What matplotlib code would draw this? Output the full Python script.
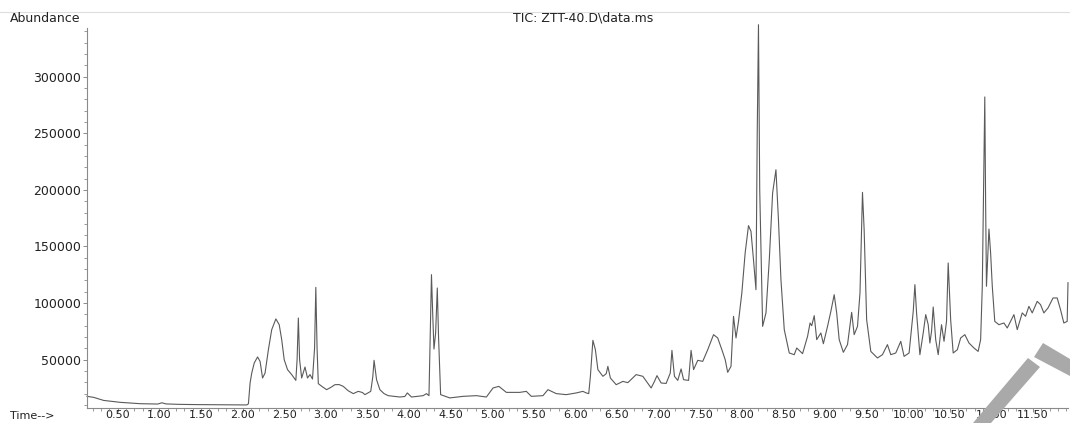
import matplotlib
matplotlib.use("Agg")
import matplotlib.pyplot as plt
from matplotlib.ticker import MultipleLocator, FormatStrFormatter
from matplotlib.lines import Line2D
from matplotlib.patches import Polygon

# retention time (min) and abundance
time_min = [
    0.13, 0.21, 0.33, 0.53, 0.77, 0.98, 1.03, 1.08, 1.25, 1.45, 1.65, 1.85, 2.05, 2.07,
    2.09, 2.11, 2.14, 2.18, 2.21, 2.24, 2.27, 2.31, 2.35, 2.40, 2.44, 2.47, 2.50, 2.54,
    2.59, 2.64, 2.655, 2.67, 2.685, 2.71, 2.75, 2.78, 2.81, 2.84, 2.865, 2.88, 2.895, 2.91,
    2.96, 3.01, 3.06, 3.11, 3.16, 3.21, 3.27, 3.33, 3.39, 3.44, 3.47, 3.54, 3.565, 3.58,
    3.61, 3.65, 3.70, 3.75, 3.89, 3.95, 3.98, 4.03, 4.17, 4.21, 4.24, 4.255, 4.27, 4.285,
    4.30, 4.32, 4.34, 4.355, 4.38, 4.49, 4.65, 4.81, 4.93, 5.01, 5.08, 5.17, 5.33, 5.41,
    5.47, 5.61, 5.67, 5.77, 5.89, 6.01, 6.09, 6.13, 6.16, 6.18, 6.21, 6.24, 6.27, 6.33,
    6.37, 6.39, 6.42, 6.49, 6.57, 6.63, 6.73, 6.81, 6.91, 6.95, 6.98, 7.03, 7.09, 7.14,
    7.16, 7.19, 7.23, 7.27, 7.30, 7.36, 7.39, 7.42, 7.47, 7.53, 7.59, 7.66, 7.71, 7.76,
    7.80, 7.83, 7.87, 7.90, 7.93, 7.96, 8.00, 8.04, 8.08, 8.11, 8.14, 8.17, 8.185, 8.20,
    8.215, 8.25, 8.29, 8.33, 8.37, 8.41, 8.44, 8.47, 8.51, 8.57, 8.63, 8.66, 8.73, 8.79,
    8.82, 8.84, 8.87, 8.90, 8.95, 8.98, 9.03, 9.07, 9.11, 9.14, 9.17, 9.22, 9.27, 9.32,
    9.35, 9.39, 9.42, 9.45, 9.47, 9.50, 9.55, 9.63, 9.69, 9.75, 9.79, 9.85, 9.91, 9.95,
    10.01, 10.06, 10.08, 10.10, 10.14, 10.18, 10.21, 10.24, 10.26, 10.28, 10.30, 10.33,
    10.36, 10.40, 10.43, 10.46, 10.48, 10.51, 10.54, 10.59, 10.63, 10.68, 10.73, 10.79,
    10.84, 10.87, 10.89, 10.92, 10.93, 10.94, 10.97, 10.99, 11.01, 11.04, 11.09, 11.15,
    11.19, 11.23, 11.27, 11.31, 11.37, 11.41, 11.45, 11.49, 11.55, 11.59, 11.63, 11.68,
    11.74, 11.79, 11.83, 11.87, 11.91, 11.92,
]
abundance = [
    17600, 16700, 14000, 12300, 11100, 10800, 11900, 10900, 10500, 10300, 10200, 10100, 10000, 11000,
    29400, 38200, 47100, 52400, 48500, 33800, 38200, 58800, 76500, 86000, 80900, 67700, 50000, 41200,
    36800, 31700, 50000, 86800, 50000, 33800, 43500, 33800, 36800, 32900, 60000, 113900, 60000, 28800,
    26000, 23500, 25500, 27900, 28000, 26400, 22500, 20000, 22000, 21000, 19100, 22000, 35000, 49400,
    32300, 23500, 20000, 18200, 17000, 17500, 20600, 17000, 18200, 20000, 18200, 73600, 125100, 90000,
    59400, 73600, 113300, 70000, 19100, 16200, 17600, 18200, 17000, 25000, 26400, 21100, 21100, 22000,
    17600, 18200, 23500, 20000, 19100, 20600, 22000, 20600, 20000, 35300, 67100, 58800, 41200, 35300,
    37600, 44100, 33800, 27900, 30800, 29700, 36800, 35300, 25000, 30800, 35900, 29400, 29000, 38200,
    58200, 35300, 31700, 41800, 32300, 31700, 58200, 41200, 49400, 48500, 58800, 72100, 69200, 58800,
    50000, 38800, 44100, 88300, 69200, 83800, 108900, 144300, 168400, 163300, 138300, 111800, 250000, 345900,
    200000, 79400, 91300, 138300, 197300, 217800, 173700, 120700, 76500, 55900, 54400, 60300, 55300, 70600,
    82400, 80000, 88900, 67700, 73600, 64100, 79400, 92700, 107400, 91300, 67700, 56500, 63300, 91800,
    72100, 79400, 108900, 197800, 164800, 85300, 57300, 51500, 54400, 63300, 54400, 55900, 66200, 52900,
    55900, 92700, 116300, 91300, 54400, 73600, 89800, 80900, 64700, 75000, 96500, 67700,
    54400, 80900, 66200, 83800, 135400, 85000, 55900, 58800, 69200, 72100, 64700, 60300,
    57300, 67700, 114800, 282100, 188400, 114800, 165400, 144300, 114800, 83800, 80900, 82400,
    78000, 83800, 89800, 76500, 91300, 88300, 97100, 91300, 101500, 98600, 91300, 95700,
    104500, 104500, 94200, 82400, 83800, 118000,
]

W, H = 1070, 423


def px(x, y):
    # pixel position (from top-left) -> figure fraction
    return (x / W, 1 - y / H)


plt.rcParams['font.family'] = ['DejaVu Sans']

fig = plt.figure(figsize=(W / 100, H / 100), dpi=100)
ax = fig.add_axes([87 / W, 1 - 408 / H, (1068 - 87) / W, (408 - 28) / H])

ax.plot(time_min, abundance, color='#5a5a5a', lw=0.8, clip_on=False)
ax.set_xlim(0.13, 11.92)
ax.set_ylim(7300, 343000)

ax.xaxis.set_major_locator(MultipleLocator(0.5))
ax.xaxis.set_minor_locator(MultipleLocator(0.1))
ax.xaxis.set_major_formatter(FormatStrFormatter('%.2f'))
ax.yaxis.set_major_locator(MultipleLocator(50000))
ax.yaxis.set_minor_locator(MultipleLocator(10000))
ax.yaxis.set_major_formatter(FormatStrFormatter('%d'))

for s in ['top', 'right']:
    ax.spines[s].set_visible(False)
for s in ['left', 'bottom']:
    ax.spines[s].set_color('#8a8a8a')
    ax.spines[s].set_linewidth(0.8)

ax.tick_params(axis='both', which='major', direction='out', length=3, width=0.7,
               color='#8a8a8a', labelsize=9, labelcolor='#222222')
ax.tick_params(axis='both', which='minor', direction='out', length=2.5, width=0.6,
               color='#8a8a8a')
ax.tick_params(axis='x', which='major', pad=-1.4, labelsize=8)
ax.tick_params(axis='y', which='major', pad=1)

fig.text(*px(10, 18), 'Abundance', ha='left', va='center', fontsize=9, color='#222222')
fig.text(*px(583, 18), 'TIC: ZTT-40.D\\data.ms', ha='center', va='center', fontsize=9,
         color='#222222')
fig.text(*px(10, 419), 'Time-->', ha='left', va='baseline', fontsize=8, color='#222222')

# thin rule at the very top
fig.add_artist(Line2D([0, 1], [1 - 12 / H] * 2, color='#dedede', lw=0.8))

# grey stroke in the bottom right corner
arm1 = [px(1043, 343), px(1070, 359), px(1070, 376), px(1034, 357)]
arm2 = [px(1028, 358), px(1040, 367), px(991, 423), px(973, 423)]
for pts in [arm1, arm2]:
    fig.add_artist(Polygon(pts, closed=True, transform=fig.transFigure,
                           facecolor='#a9a9a9', edgecolor='none'))

fig.savefig('out.png', dpi=100)
